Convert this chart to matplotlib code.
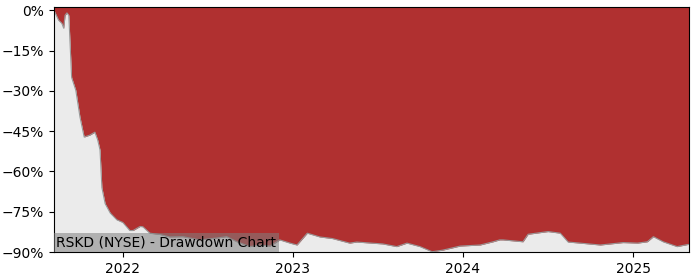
import numpy as np
import pandas as pd
import matplotlib
matplotlib.use("Agg")
import matplotlib.pyplot as plt
import matplotlib.dates as mdates
import matplotlib.ticker as mticker

# drawdown (percent below running peak)
dates = ["2021-08-06", "2021-08-16", "2021-08-23", "2021-08-27", "2021-08-30",
         "2021-09-03", "2021-09-07", "2021-09-13", "2021-09-22", "2021-10-01",
         "2021-10-10", "2021-10-22", "2021-11-02", "2021-11-08", "2021-11-13",
         "2021-11-17", "2021-11-24", "2021-12-05", "2021-12-19",
         "2022-01-01", "2022-01-16", "2022-01-23", "2022-02-07", "2022-02-13",
         "2022-02-28", "2022-03-22", "2022-04-12", "2022-05-10", "2022-06-15",
         "2022-07-22", "2022-08-12", "2022-09-03", "2022-10-01", "2022-10-22",
         "2022-11-13", "2022-12-04", "2022-12-26", "2023-01-10", "2023-02-01",
         "2023-02-28", "2023-03-27", "2023-05-03", "2023-05-18", "2023-07-13",
         "2023-08-12", "2023-09-03", "2023-10-01", "2023-10-27", "2023-11-19",
         "2023-12-26", "2024-02-07", "2024-03-06", "2024-03-20", "2024-03-27",
         "2024-05-09", "2024-05-20", "2024-07-02", "2024-07-28", "2024-08-14",
         "2024-09-09", "2024-10-22", "2024-12-10", "2025-01-10", "2025-01-31",
         "2025-02-13", "2025-03-06", "2025-04-05", "2025-04-28", "2025-04-30"]
drawdown = [0.0, -3.7, -4.9, -6.7, -1.9,
            -1.0, -1.9, -25.0, -29.8, -39.8,
            -47.2, -46.5, -45.4, -48.3, -52.0,
            -66.0, -72.0, -75.5, -78.0,
            -79.0, -82.0, -82.0, -80.5, -80.6,
            -83.0, -83.5, -84.4, -84.3, -85.5,
            -84.8, -84.3, -86.2, -88.0, -87.4,
            -87.8, -85.5, -86.7, -87.4, -83.0,
            -84.4, -85.0, -86.7, -86.3, -87.0,
            -88.0, -86.7, -88.0, -89.9, -89.3,
            -87.8, -87.4, -86.2, -85.5, -85.5,
            -86.2, -83.4, -82.4, -83.0, -86.3,
            -86.7, -87.4, -86.5, -86.7, -86.2,
            -84.3, -86.2, -88.0, -87.2, -87.2]

dates = pd.to_datetime(dates)
drawdown = np.array(drawdown)

fig = plt.figure(figsize=(7, 2.8), dpi=100)
ax = fig.add_axes([0.077, 0.1, 0.907, 0.875])

ymin, ymax = -90, 1.2
ax.fill_between(dates, drawdown, ymin, color="#ebebeb", lw=0)
ax.fill_between(dates, drawdown, ymax, color="#b03030", lw=0)
ax.plot(dates, drawdown, color="#999999", lw=0.8)

ax.set_ylim(ymin, ymax)
ax.set_xlim(dates[0], dates[-1])
ax.set_yticks(np.arange(0, -91, -15))
ax.yaxis.set_major_formatter(mticker.PercentFormatter(xmax=100, decimals=0))
ax.xaxis.set_major_locator(mdates.YearLocator())
ax.xaxis.set_major_formatter(mdates.DateFormatter("%Y"))

ax.text(0.004, 0.01, "RSKD (NYSE) - Drawdown Chart", transform=ax.transAxes,
        fontsize=10, va="bottom", ha="left",
        bbox=dict(facecolor="gray", alpha=0.55, edgecolor="none", pad=2))

fig.savefig("out.png", dpi=100)
